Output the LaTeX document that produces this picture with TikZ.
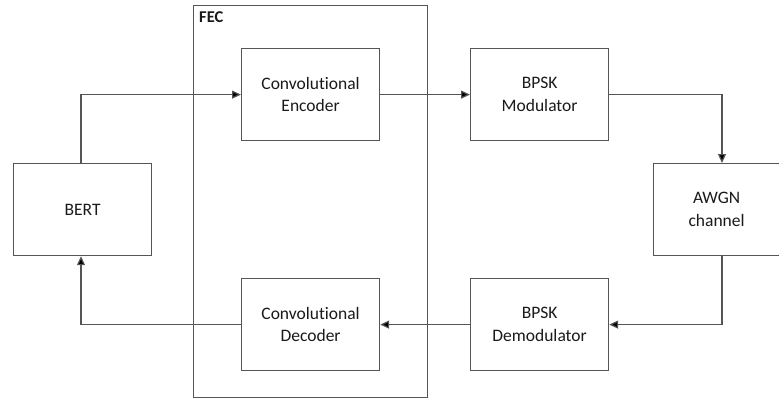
\documentclass[tikz,border=0pt]{standalone}
\usepackage{fontspec}
\setmainfont[Ligatures=NoCommon]{Carlito}
\usetikzlibrary{arrows.meta}
\definecolor{edge}{HTML}{555555}
\definecolor{txt}{HTML}{1A1A1A}
\tikzset{
  blk/.style={draw=edge, line width=1.2pt, fill=white, align=center, text=txt,
    font=\fontsize{17.5}{22.5}\selectfont},
  conn/.style={draw=edge, line width=1.2pt, -{Triangle[length=9pt,width=8pt,fill=black]}},
}
\begin{document}
\begin{tikzpicture}[x=1pt,y=-1pt]
\useasboundingbox (0,0) rectangle (779,399);
\node[draw=edge, line width=1.2pt, minimum width=234pt, minimum height=392pt, anchor=north west, inner sep=0pt] (fec) at (193,5) {};
\node[anchor=north west, font=\fontsize{16.5}{18}\selectfont\bfseries, text=txt, inner sep=0pt] (fecl) at (199,11) {FEC};
\node[blk, minimum width=138pt, minimum height=92pt, anchor=north west, inner sep=0pt] (bert) at (13,163) {BERT};
\node[blk, minimum width=138pt, minimum height=92pt, anchor=north west, inner sep=0pt] (enc) at (241,48) {Convolutional\\Encoder};
\node[blk, minimum width=138pt, minimum height=92pt, anchor=north west, inner sep=0pt] (dec) at (241,278) {Convolutional\\Decoder};
\node[blk, minimum width=138pt, minimum height=92pt, anchor=north west, inner sep=0pt] (mod) at (470,48) {BPSK\\Modulator};
\node[blk, minimum width=138pt, minimum height=92pt, anchor=north west, inner sep=0pt] (dem) at (470,278) {BPSK\\Demodulator};
\node[blk, minimum width=126pt, minimum height=92pt, anchor=north west, inner sep=0pt] (awgn) at (653,163) {AWGN\\channel};
\draw[conn] (bert.north -| 81,0) |- (enc.west);
\draw[conn] (enc.east) -- (mod.west);
\draw[conn] (mod.east) -| (awgn.north -| 722,0);
\draw[conn] (awgn.south -| 722,0) |- (dem.east);
\draw[conn] (dem.west) -- (dec.east);
\draw[conn] (dec.west) -| (bert.south -| 81,0);
\end{tikzpicture}
\end{document}
